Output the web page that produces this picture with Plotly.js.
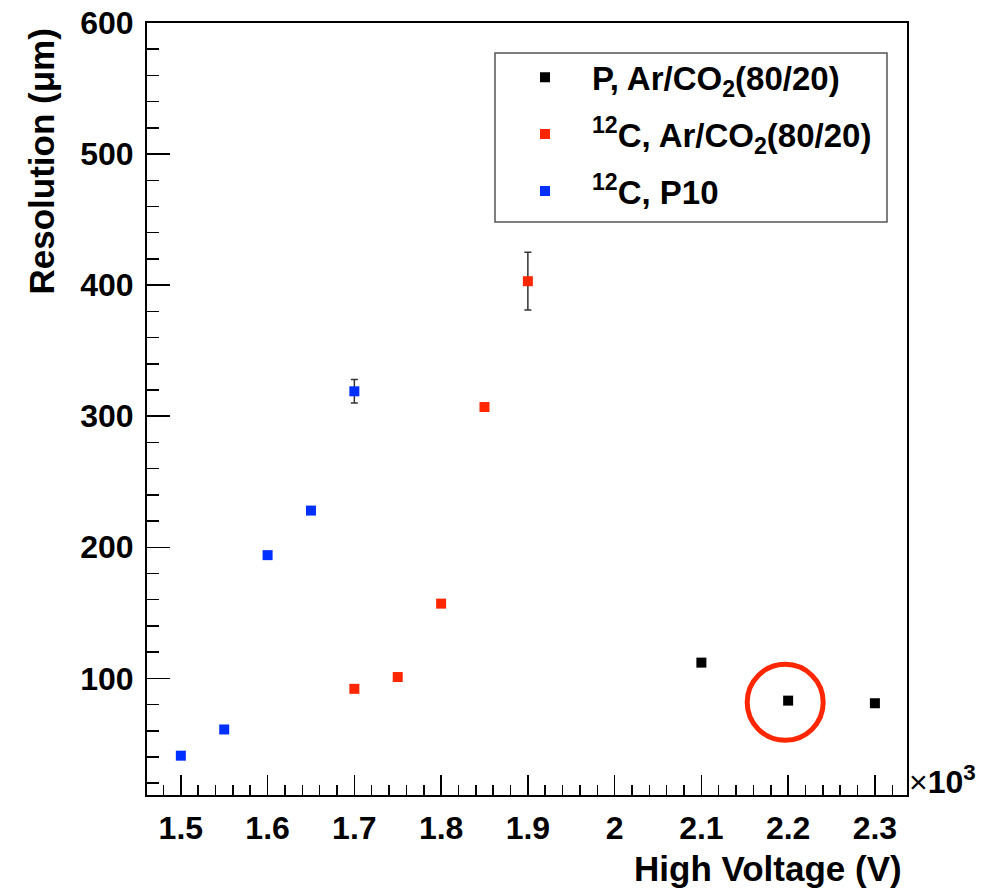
<!DOCTYPE html>
<html>
<head>
<meta charset="utf-8">
<script src="https://cdn.plot.ly/plotly-3.0.1.min.js"></script>
<style>html,body{margin:0;padding:0;background:#fff;}#chart{width:997px;height:890px;}</style>
</head>
<body>
<div id="chart"></div>
<script>
// High voltage in units of 10^3 V
var hvProton = [2.1, 2.2, 2.3];
var resProton = [112, 83, 81];
var errProton = [0, 0, 0];

var hvCarbonArCO2 = [1.7, 1.75, 1.8, 1.85, 1.9];
var resCarbonArCO2 = [92, 101, 157, 307, 403];
var errCarbonArCO2 = [0, 0, 0, 0, 22];

var hvCarbonP10 = [1.5, 1.55, 1.6, 1.65, 1.7];
var resCarbonP10 = [41, 61, 194, 228, 319];
var errCarbonP10 = [0, 0, 0, 0, 9];

var seriesNames = ['P, Ar/CO<sub>2</sub>(80/20)', '<sup>12</sup>C, Ar/CO<sub>2</sub>(80/20)', '<sup>12</sup>C, P10'];

var xTickVals = [1.5, 1.6, 1.7, 1.8, 1.9, 2.0, 2.1, 2.2, 2.3];
var xTickText = ['1.5', '1.6', '1.7', '1.8', '1.9', '2', '2.1', '2.2', '2.3'];
var yTickVals = [100, 200, 300, 400, 500, 600];
var yTickText = ['100', '200', '300', '400', '500', '600'];

// highlighted point (circled)
var circleCenter = {x: 2.1966, y: 81.7};

var FONT = 'Liberation Sans, Arial, Helvetica, sans-serif';
var RED = 'rgb(255,38,0)';
var BLUE = 'rgb(0,48,255)';

function mk(x, y, e, name, color, grp) {
  return {
    type: 'scatter', mode: 'markers', x: x, y: y, name: name, legendgroup: grp,
    marker: {symbol: 'square', size: 10, color: color},
    error_y: {type: 'data', array: e, visible: true, color: '#333', thickness: 1.5, width: 3.5},
    hoverinfo: 'x+y'
  };
}

var traces = [
  mk(hvProton, resProton, errProton, seriesNames[0], '#000000', 'a'),
  mk(hvCarbonArCO2, resCarbonArCO2, errCarbonArCO2, seriesNames[1], RED, 'b'),
  mk(hvCarbonP10, resCarbonP10, errCarbonP10, seriesNames[2], BLUE, 'c')
];

var layout = {
  width: 997, height: 890,
  margin: {l: 147, r: 90, t: 23, b: 95},
  paper_bgcolor: '#fff', plot_bgcolor: '#fff',
  showlegend: true,
  font: {family: FONT, color: '#000'},
  xaxis: {
    range: [1.461, 2.337], showgrid: false, zeroline: false,
    showline: true, linecolor: '#000', linewidth: 2, mirror: true,
    ticks: 'inside', ticklen: 20, tickwidth: 1.5, tickcolor: '#000',
    tickmode: 'array', tickvals: xTickVals, ticktext: xTickText,
    tickfont: {family: FONT, size: 32, weight: 'bold', color: '#000'},
    ticklabelstandoff: 4,
    minor: {dtick: 0.02, tick0: 1.5, ticks: 'inside', ticklen: 10, tickwidth: 1.5, tickcolor: '#000', showgrid: false}
  },
  yaxis: {
    range: [11, 600], showgrid: false, zeroline: false,
    showline: true, linecolor: '#000', linewidth: 2, mirror: true,
    ticks: 'inside', ticklen: 23, tickwidth: 1.5, tickcolor: '#000',
    tickmode: 'array', tickvals: yTickVals, ticktext: yTickText,
    tickfont: {family: FONT, size: 32, weight: 'bold', color: '#000'},
    ticklabelstandoff: 5,
    minor: {dtick: 20, tick0: 0, ticks: 'inside', ticklen: 12, tickwidth: 1.5, tickcolor: '#000', showgrid: false}
  },
  legend: {
    x: (498 - 147) / 760, y: 0.966, xanchor: 'left', yanchor: 'top',
    bgcolor: 'rgba(0,0,0,0)', borderwidth: 0,
    font: {family: FONT, size: 33, weight: 'bold', color: '#000'},
    traceorder: 'grouped', tracegroupgap: 11, itemwidth: 84
  },
  shapes: [
    {type: 'rect', xref: 'paper', yref: 'paper',
     x0: (495 - 147) / 760, x1: (887 - 147) / 760, y0: (795 - 222) / 772, y1: (795 - 53) / 772,
     line: {color: '#555', width: 1.5}, fillcolor: 'rgba(0,0,0,0)'},
    {type: 'circle', xref: 'x', yref: 'y',
     x0: circleCenter.x - 0.0438, x1: circleCenter.x + 0.0438,
     y0: circleCenter.y - 29, y1: circleCenter.y + 29,
     line: {color: RED, width: 5}}
  ],
  annotations: [
    {text: 'High Voltage (V)', xref: 'paper', yref: 'paper', x: (904 - 147) / 760, y: -0.068,
     xanchor: 'right', yanchor: 'top', showarrow: false,
     font: {family: FONT, size: 35, weight: 'bold', color: '#000'}},
    {text: 'Resolution (μm)', xref: 'paper', yref: 'paper', x: (19 - 147) / 760, y: (795 - 27) / 772,
     xanchor: 'left', yanchor: 'top', showarrow: false, textangle: -90,
     font: {family: FONT, size: 35, weight: 'bold', color: '#000'}},
    {text: '×<b>10<sup>3</sup></b>', xref: 'paper', yref: 'paper', x: (907 - 147) / 760, y: (795 - 780) / 772,
     xanchor: 'left', yanchor: 'middle', showarrow: false,
     font: {family: FONT, size: 32, color: '#000'}}
  ]
};

Plotly.newPlot('chart', traces, layout, {displayModeBar: false, staticPlot: true});
</script>
</body>
</html>
